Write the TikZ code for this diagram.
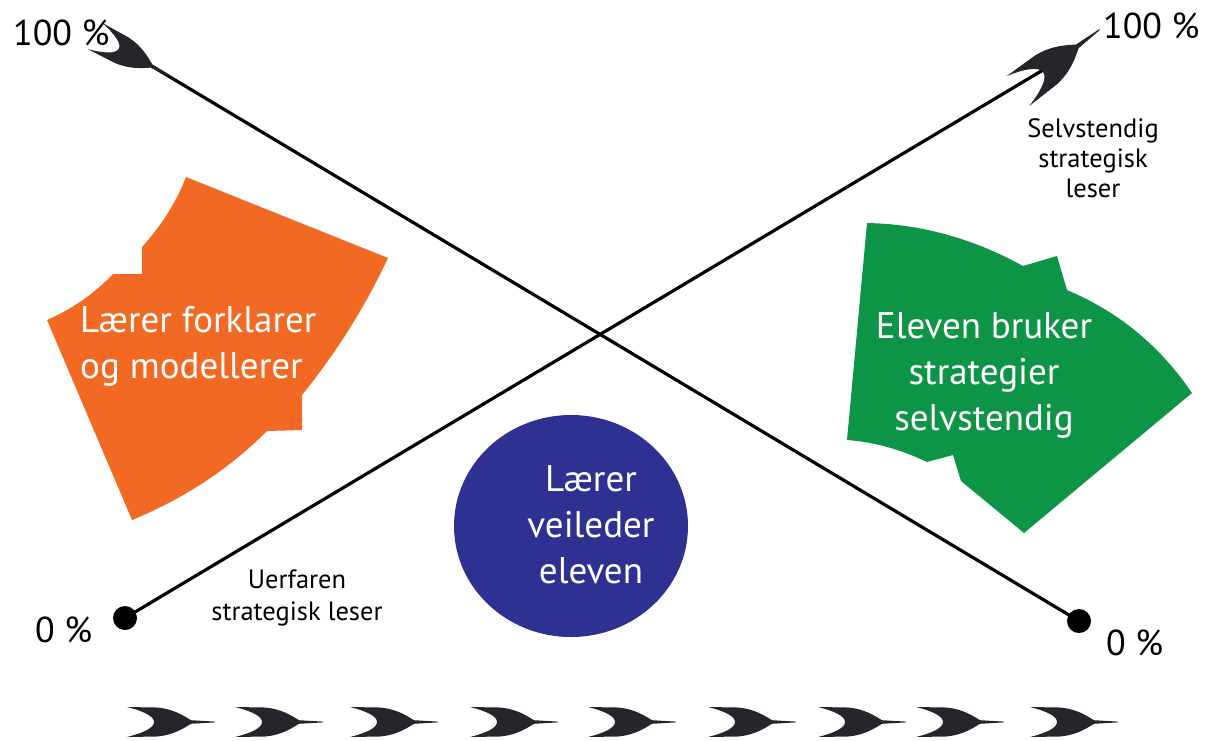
\documentclass[tikz,border=0pt]{standalone}
\usepackage{fontspec}
\setmainfont{PT Sans}
\usetikzlibrary{shapes.geometric}
\definecolor{orng}{HTML}{F26924}
\definecolor{grn}{HTML}{0E9447}
\definecolor{navy}{HTML}{2E3192}
\definecolor{ink}{HTML}{24262B}
\tikzset{
  swoosh/.pic={\fill[ink] (0,15) -- (30,14.5) .. controls (47,13) and (57,6) .. (64,1.8) -- (88,0.4) -- (88,-0.4) -- (64,-1.8) .. controls (57,-6) and (47,-13) .. (30,-14.5) -- (0,-15) .. controls (16,-11) and (27,-6) .. (27,0) .. controls (27,6) and (16,11) .. (0,15) -- cycle;},
  wtext/.style={text=white, font=\fontsize{37}{46}\selectfont, align=center, inner sep=0pt, anchor=base},
  btext/.style={text=black, font=\fontsize{26.5}{30}\selectfont, align=center, inner sep=0pt, anchor=base},
  pct/.style={text=black, font=\fontsize{36}{40}\selectfont, inner sep=0pt, anchor=base west},
  ray/.style={line width=3.2pt, black},
  enddot/.style={circle, fill=black, minimum size=24pt, inner sep=0pt},
}
\begin{document}
\begin{tikzpicture}[x=1pt,y=-1pt]
\useasboundingbox (0,0) rectangle (1206,740);
% orange shape
\fill[orng] (186,177) -- (388,258) .. controls (365,307) and (336,353) .. (302,395)
  -- (302,430) -- (267,431) .. controls (228,470) and (183,499) .. (132,520)
  -- (47,320) .. controls (72,309) and (94,294) .. (113,274)
  -- (142,274) -- (142,247) .. controls (161,226) and (176,203) .. (186,177) -- cycle;
% green shape
\fill[grn] (867,223) .. controls (922,224) and (974,239) .. (1023,266)
  -- (1057,256) -- (1067,290) .. controls (1119,312) and (1160,346) .. (1192,393)
  -- (1024,533) -- (961,481) -- (953,455) -- (927,462)
  .. controls (902,450) and (875,442) .. (847,440) -- cycle;
% ellipse
\node[ellipse, fill=navy, minimum width=234pt, minimum height=222pt, inner sep=0pt] (ell) at (571,526) {};
% lines
\coordinate (tlstart) at (150,65);
\coordinate (trend) at (1043,70);
\node[enddot] (d1) at (125,618) {};
\node[enddot] (d2) at (1079,621) {};
\draw[ray] (tlstart) -- (d2.center);
\draw[ray] (d1.center) -- (trend);
% arrow heads
\pic[rotate=-28] at (95,36) {swoosh};
\pic[rotate=37, xscale=1.16, yscale=1.25] at (1018,91) {swoosh};
% bottom row
\foreach \xx/\nm in {127/b1,235/b2,350/b3,470/b4,588/b5,708/b6,818/b7,916/b8,1030/b9}
  \pic (\nm) at (\xx,722) {swoosh};
% texts
\node[wtext, anchor=base west, align=left] (t1) at (80,378) {Lærer forklarer\\og modellerer};
\node[wtext] (t2) at (984,430) {Eleven bruker\\strategier\\selvstendig};
\node[wtext] (t3) at (591,583) {Lærer\\veileder\\eleven};
\node[btext] (t4) at (1093,197) {Selvstendig\\strategisk\\leser};
\node[btext, font=\fontsize{26.5}{32}\selectfont] (t5) at (297,620) {Uerfaren\\strategisk leser};
\node[pct] (p1) at (13,45) {100 \%};
\node[pct] (p2) at (1103,38) {100 \%};
\node[pct] (p3) at (35,642) {0 \%};
\node[pct] (p4) at (1106,655) {0 \%};
\end{tikzpicture}
\end{document}
